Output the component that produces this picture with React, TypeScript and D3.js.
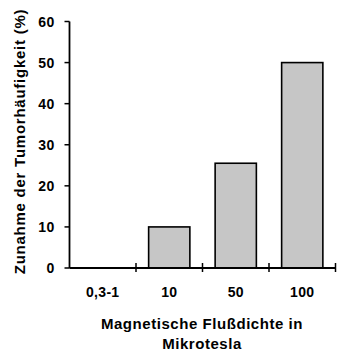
import React from "react";
import * as d3 from "d3";

const categories = ["0,3-1", "10", "50", "100"];
const values = [0, 10, 25.5, 50];
const yTicks = [0, 10, 20, 30, 40, 50, 60];
const yTitle = "Zunahme der Tumorhäufigkeit (%)";
const xTitleLines = ["Magnetische Flußdichte in", "Mikrotesla"];

export default function App() {
  const W = 359, H = 361;
  const left = 69.5, right = 335.5, top = 21.5, bottom = 268;
  const x = d3.scaleBand<string>().domain(categories).range([left, right]).paddingInner(0.38).paddingOuter(0.19);
  const xb = d3.scaleBand<string>().domain(categories).range([left, right]);
  const y = d3.scaleLinear().domain([0, 60]).range([bottom, top]);
  const font = "'Liberation Sans', Arial, sans-serif";
  const boundaries = categories.map((c) => xb(c)! + xb.bandwidth());
  return (
    <svg width={W} height={H} style={{ position: "absolute", left: 0, top: 0, background: "#fff" }}>
      {categories.map((c, i) =>
        values[i] > 0 ? (
          <rect key={c} x={x(c)} y={y(values[i])} width={x.bandwidth()} height={bottom - y(values[i])}
            fill="#c6c6c6" stroke="#000" strokeWidth={1.6} />
        ) : null
      )}
      <line x1={left} x2={left} y1={top} y2={bottom} stroke="#000" strokeWidth={1.8} />
      <line x1={left} x2={right} y1={bottom} y2={bottom} stroke="#000" strokeWidth={1.8} />
      {yTicks.map((t) => (
        <g key={t}>
          <line x1={left - 5} x2={left} y1={y(t)} y2={y(t)} stroke="#000" strokeWidth={1.5} />
          <text x={54.5} y={y(t)} dy="0.36em" textAnchor="end" fontFamily={font} fontWeight="bold" fontSize={14} letterSpacing={0.3}>{t}</text>
        </g>
      ))}
      {boundaries.map((b, i) => (
        <line key={i} x1={b} x2={b} y1={bottom - 5} y2={bottom + 4} stroke="#000" strokeWidth={1.5} />
      ))}
      {categories.map((c) => (
        <text key={c} x={xb(c)! + xb.bandwidth() / 2} y={297} textAnchor="middle" fontFamily={font} fontWeight="bold" fontSize={14} letterSpacing={0.3}>{c}</text>
      ))}
      {xTitleLines.map((l, i) => (
        <text key={i} x={202} y={328.5 + i * 20} textAnchor="middle" fontFamily={font} fontWeight="bold" fontSize={15} letterSpacing={0.55}>{l}</text>
      ))}
      <text transform={`translate(25,141.5) rotate(-90)`} textAnchor="middle" fontFamily={font} fontWeight="bold" fontSize={15} letterSpacing={0.75}>{yTitle}</text>
    </svg>
  );
}
